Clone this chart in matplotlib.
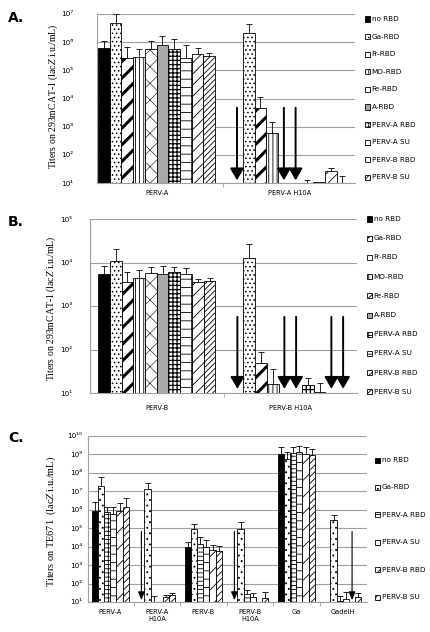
import numpy as np
import matplotlib
matplotlib.use('Agg')
import matplotlib.pyplot as plt
from matplotlib.patches import Rectangle
from matplotlib.ticker import LogLocator, FuncFormatter, FixedLocator, NullFormatter

nan = np.nan

# ---- panel A: 293mCAT-1 cells, PERV-A receptor ----
A_GROUPS = ['PERV-A', 'PERV-A H10A']
A_SERIES = ['no RBD', 'Ga-RBD', 'Fr-RBD', 'MO-RBD', 'Fe-RBD', 'A-RBD',
            'PERV-A RBD', 'PERV-A SU', 'PERV-B RBD', 'PERV-B SU']
A_VALUES = [
    [6.3e5, nan], [4.7e6, 2.1e6], [2.8e5, 4.6e3], [3.0e5, 6.2e2], [5.7e5, nan],
    [7.7e5, nan], [5.5e5, 10], [2.8e5, 10.6], [3.7e5, 26], [3.2e5, 10],
]
A_ERR_TOP = [
    [1.1e6, nan], [1.0e7, 4.3e6], [6.6e5, 1.1e4], [5.5e5, 1.5e3], [1.07e6, nan],
    [1.6e6, nan], [1.3e6, 13], [7.9e5, nan], [6.3e5, 35], [4.0e5, 18],
]
A_ARROWS = [(1, 0), (1, 4), (1, 5)]  # (group, series)

# ---- panel B: 293mCAT-1 cells, PERV-B receptor ----
B_GROUPS = ['PERV-B', 'PERV-B H10A']
B_SERIES = A_SERIES
B_VALUES = [
    [5.3e3, nan], [1.1e4, 1.26e4], [3.6e3, 48], [4.4e3, 16], [5.7e3, nan],
    [5.4e3, nan], [6.0e3, 15], [5.5e3, 10.7], [3.5e3, nan], [3.8e3, nan],
]
B_ERR_TOP = [
    [8.1e3, nan], [2.0e4, 2.6e4], [6.2e3, 89], [6.6e3, 36], [7.8e3, nan],
    [8.1e3, nan], [8.0e3, 22], [7.4e3, 17], [4.1e3, nan], [4.3e3, nan],
]
B_ARROWS = [(1, 0), (1, 4), (1, 5), (1, 8), (1, 9)]

# ---- panel C: TE671 cells ----
C_GROUPS = ['PERV-A', 'PERV-A\nH10A', 'PERV-B', 'PERV-B\nH10A', 'Ga', 'GadelH']
C_SERIES = ['no RBD', 'Ga-RBD', 'PERV-A RBD', 'PERV-A SU', 'PERV-B RBD', 'PERV-B SU']
C_VALUES = [
    [8.7e5, nan, 9.4e3, nan, 1.1e9, 10.5],
    [1.9e7, 1.3e7, 8.9e4, 9.2e4, 5.4e8, 2.8e5],
    [7.3e5, 10, 1.4e4, 27, 1.2e9, 12],
    [6.0e5, 10.5, 9.4e3, 18, 1.4e9, 14],
    [8.7e5, 19, 6.2e3, 10.5, 1.1e9, nan],
    [1.4e6, 25, 5.7e3, 16, 9.1e8, 18],
]
C_ERR_TOP = [
    [2.8e6, nan, 1.7e4, nan, 2.4e9, nan],
    [5.7e7, 2.7e7, 1.6e5, 2.3e5, 1.4e9, 5.3e5],
    [1.5e6, 20, 3.2e4, 47, 2.6e9, 20],
    [1.4e6, nan, 2.2e4, 31, 3.0e9, 33],
    [2.2e6, 25, 1.3e4, nan, 2.4e9, nan],
    [4.5e6, 31, 1.15e4, 35, 1.9e9, 31],
]
C_ARROWS = [(1, 0), (3, 0), (5, 4)]

# fill style of every series: (face, hatch)
STYLE_AB = {
    'no RBD': ('black', None),
    'Ga-RBD': ('white', '....'),
    'Fr-RBD': ('white', '//'),
    'MO-RBD': ('white', '||||'),
    'Fe-RBD': ('white', 'xx'),
    'A-RBD': ('#a8a8a8', None),
    'PERV-A RBD': ('white', '++++'),
    'PERV-A SU': ('white', '--|'),
    'PERV-B RBD': ('white', '///'),
    'PERV-B SU': ('white', '//////'),
}
STYLE_C = {
    'no RBD': ('black', None),
    'Ga-RBD': ('white', '...'),
    'PERV-A RBD': ('white', '----|'),
    'PERV-A SU': ('white', '--'),
    'PERV-B RBD': ('white', '//'),
    'PERV-B SU': ('white', '/////'),
}
HATCH_LW = {'Fr-RBD': 2.2, 'PERV-A RBD': 0.9, 'Fe-RBD': 0.4}

plt.rcParams['hatch.linewidth'] = 0.6
plt.rcParams['mathtext.fontset'] = 'stix'
GRID = '#a0a0a0'
SERIF = 'Liberation Serif'
SUP = str.maketrans('0123456789', '⁰¹²³⁴⁵⁶⁷⁸⁹')

fig = plt.figure(figsize=(4.3, 6.32), dpi=100)
W, H = 430, 632


def px_axes(left, top, right, bottom):
    return fig.add_axes([left / W, 1 - bottom / H, (right - left) / W, (bottom - top) / H])


def power_label(y, pos):
    return '10' + str(int(round(np.log10(y)))).translate(SUP)


def draw_panel(ax, groups, series, values, err_top, arrows, styles, width, xlim,
               ylim, arrow_top, arrow_kw, tick_pad):
    n = len(series)
    for s, name in enumerate(series):
        face, hatch = styles[name]
        for g in range(len(groups)):
            x = g + (s - (n - 1) / 2) * width
            v = values[s][g]
            if np.isnan(v):
                continue
            b = ax.bar(x, v - 10, bottom=10, width=width, color=face, edgecolor='black',
                       linewidth=0.6, hatch=hatch, zorder=3)
            if name in HATCH_LW and styles is STYLE_AB:
                for p in b.patches:
                    p.set_hatch_linewidth(HATCH_LW[name])
            e = err_top[s][g]
            if not np.isnan(e):
                ax.vlines(x, v, e, color='black', lw=0.6, zorder=4)
                ax.plot([x], [e], marker='_', ms=4, mew=0.6, color='black', zorder=4)
    for g, s in arrows:
        x = g + (s - (n - 1) / 2) * width
        ax.annotate('', xy=(x, 12.5), xytext=(x, arrow_top),
                    arrowprops=dict(color='black', shrinkA=0, shrinkB=0, **arrow_kw), zorder=5)

    ax.set_yscale('log')
    ax.set_ylim(*ylim)
    ax.set_xlim(*xlim)
    ax.yaxis.set_major_locator(LogLocator(base=10, numticks=20))
    ax.yaxis.set_major_formatter(FuncFormatter(power_label))
    ax.yaxis.set_minor_locator(FixedLocator([]))
    ax.grid(axis='y', color=GRID, lw=0.8, zorder=0)
    ax.tick_params(axis='y', length=0, pad=tick_pad, labelsize=5.2)
    ax.set_xticks(range(len(groups)))
    ax.set_xticklabels(groups, fontsize=4.8)
    ax.tick_params(axis='x', which='major', length=0, pad=5)
    ax.set_xticks([g + 0.5 for g in range(len(groups) - 1)], minor=True)
    ax.xaxis.set_minor_formatter(NullFormatter())
    ax.tick_params(axis='x', which='minor', length=3, color=GRID, direction='out')
    for side in ['top', 'right']:
        ax.spines[side].set_visible(False)
    for side in ['left', 'bottom']:
        ax.spines[side].set_color(GRID)
        ax.spines[side].set_linewidth(0.8)


def draw_legend(series, styles, x, y0, step, size):
    for i, name in enumerate(series):
        face, hatch = styles[name]
        y = y0 + step * i
        r = Rectangle((x / W, 1 - (y + size / 2) / H), size / W, size / H,
                      transform=fig.transFigure, facecolor=face, edgecolor='black',
                      linewidth=0.6, hatch=hatch)
        fig.add_artist(r)
        fig.text((x + size + 1.5) / W, 1 - y / H, name, fontsize=5.2, va='center', ha='left')


BIG_ARROW = dict(arrowstyle='-|>,head_length=0.55,head_width=0.32', lw=1.4, mutation_scale=13)
THIN_ARROW = dict(arrowstyle='-|>,head_length=0.55,head_width=0.22', lw=0.8, mutation_scale=9)

axA = px_axes(97, 14, 355, 183)
draw_panel(axA, A_GROUPS, A_SERIES, A_VALUES, A_ERR_TOP, A_ARROWS, STYLE_AB,
           0.088, (-0.447, 1.49), (10, 1e7), 10 ** 3.67, BIG_ARROW, 17)
axB = px_axes(90, 219, 357, 393)
draw_panel(axB, B_GROUPS, B_SERIES, B_VALUES, B_ERR_TOP, B_ARROWS, STYLE_AB,
           0.088, (-0.5, 1.5), (10, 1e5), 10 ** 2.75, BIG_ARROW, 13)
axB.tick_params(axis='x', which='major', pad=9)
axC = px_axes(88, 436, 367, 602)
draw_panel(axC, C_GROUPS, C_SERIES, C_VALUES, C_ERR_TOP, C_ARROWS, STYLE_C,
           0.1327, (-0.48, 5.52), (10, 1e10), 10 ** 4.82, THIN_ARROW, 4)

draw_legend(A_SERIES, STYLE_AB, 365, 19, 17.6, 5)
draw_legend(B_SERIES, STYLE_AB, 367, 219, 19.2, 5)
draw_legend(C_SERIES, STYLE_C, 375, 460, 27.4, 5)

# y labels and panel letters
fig.text(53 / W, 1 - 96 / H, 'Titers on 293mCAT-1 (lac$Z$ i.u./mL)', rotation=90,
         ha='center', va='center', fontsize=7.0, family=SERIF)
fig.text(51 / W, 1 - 308 / H, 'Titers on 293mCAT-1 (lac$Z$ i.u./mL)', rotation=90,
         ha='center', va='center', fontsize=7.0, family=SERIF)
fig.text(51 / W, 1 - 521 / H, 'Titers on TE671  (lac$Z$ i.u./mL)', rotation=90,
         ha='center', va='center', fontsize=7.4, family=SERIF)

fig.text(8 / W, 1 - 18 / H, 'A.', fontsize=10, fontweight='bold', va='center')
fig.text(8 / W, 1 - 222 / H, 'B.', fontsize=10, fontweight='bold', va='center')
fig.text(8 / W, 1 - 438 / H, 'C.', fontsize=10, fontweight='bold', va='center')

fig.savefig('out.png', dpi=100)
